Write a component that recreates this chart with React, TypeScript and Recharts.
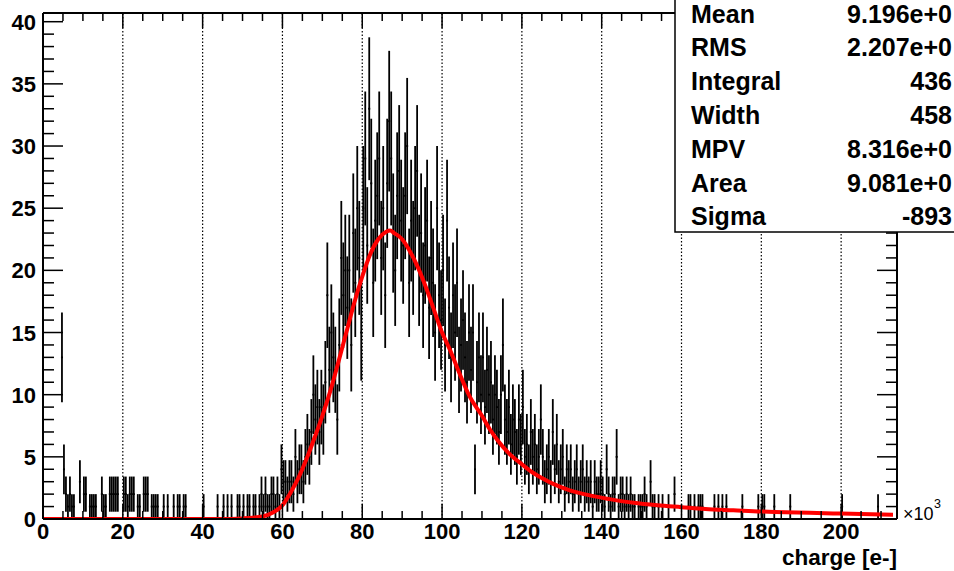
import { ComposedChart, Scatter, Line, XAxis, YAxis, ErrorBar, ReferenceLine } from 'recharts';

const BIN = 0.5; // bin width in 10^3 e-

// bin contents, one array per charge range (start of range in the name)
const counts0 = [0,0,0,0,0,0,0,0,0,13, 4,2,1,2,1,1,0,0,3,0, 2,2,0,1,1,1,1,0,0,2, 1,1,0,2,2,2,2,2,0,0, 2,2,1,2,2,2,0,1,1,0, 2,2,2,0,1,1,1,1,0,0];
const counts30 = [1,0,1,0,0,1,0,1,1,0, 1,1,0,0,0,0,0,0,0,0, 1,0,0,0,0,0,0,1,0,0, 1,0,1,0,1,0,0,1,1,0, 1,0,1,1,0,1,1,0,1,2, 1,2,1,1,2,2,1,2,1,4];
const counts60 = [3,3,2,3,3,2,5,3,4,4, 3,5,6,5,7,10,8,9,7,9, 8,11,18,12,15,13,12,8,14,21];
const counts75 = [18,20,17,20,14,23,19,25,21,15, 25,29,22,33,27,19,24,26,29,21, 25,18,27,32,29,23,20,26,28,24];
const counts90 = [22,26,30,19,24,21,25,28,20,23, 18,22,24,17,21,19,15,25,18,16, 20,14,24,17,13,18,15,19,12,14];
const counts105 = [16,13,11,15,12,15,4,11,13,10, 13,9,12,10,11,8,10,9,7,10, 14,8,7,9,6,8,7,5,8,6, 9,5,6,4,7,5,6,4,5,8];
const counts125 = [5,3,4,5,3,7,4,6,3,4, 5,2,4,3,4,2,3,4,2,3, 4,2,3,2,3,1,3,2,2,3, 2,1,4,2,1,2,2,5,1,2, 2,1,2,1,2,1,1,0,1,1];
const counts150 = [1,2,1,0,3,1,1,0,1,0, 1,0,0,1,0,0,2,0,0,0, 0,0,0,1,1,0,1,0,1,1, 1,0,0,0,0,0,1,0,1,0, 1,0,1,0,0,0,0,0,0,0, 1,0,0,0,0,0,0,0,1,0, 1,1,0,0,0,0,1,0,0,0, 0,0,0,0,1,0,0,0,0,0, 0,0,0,0,0,0,0,0,0,0, 0,0,0,0,0,0,0,0,0,0, 1,0,0,0,0,0,0,0,0,0, 0,0,0,0,0,0,0,0,1,0, 0,0,0,0,0,0,0,0];

const segments: [number, number[]][] = [
  [0, counts0], [30, counts30], [60, counts60], [75, counts75],
  [90, counts90], [105, counts105], [125, counts125], [150, counts150],
];

// landau fit
const fitX = [0, 45, 50, 52.5, 55, 57.5, 60, 62, 64, 66, 68, 70, 72, 74, 76, 78, 80, 82, 84, 86, 87, 88, 90, 92, 94, 96, 98, 100, 102, 104, 107, 110, 112, 114, 117, 120, 122, 125, 128, 132, 137, 142, 148, 154, 160, 166, 173, 180, 186, 192, 198, 205, 213];
const fitY = [0, 0, 0.05, 0.1, 0.2, 0.5, 1.1, 2.1, 3.3, 4.8, 6.5, 8.3, 10.3, 12.6, 15.0, 17.4, 19.5, 21.3, 22.5, 23.1, 23.2, 23.0, 22.5, 21.5, 20.2, 18.6, 16.8, 15.0, 13.6, 12.0, 9.8, 8.3, 7.2, 6.3, 5.2, 4.4, 3.9, 3.3, 2.8, 2.3, 1.9, 1.6, 1.3, 1.1, 0.95, 0.8, 0.7, 0.6, 0.55, 0.5, 0.45, 0.4, 0.35];

const xTicks = [0, 5, 10, 15, 20, 25, 30, 35, 40, 45, 50, 55, 60, 65, 70, 75, 80, 85, 90, 95, 100, 105, 110, 115, 120, 125, 130, 135, 140, 145, 150, 155, 160, 165, 170, 175, 180, 185, 190, 195, 200, 205, 210];
const xGrid = [20, 40, 60, 80, 100, 120, 140, 160, 180, 200];
const yTicks = [0, 1, 2, 3, 4, 5, 6, 7, 8, 9, 10, 11, 12, 13, 14, 15, 16, 17, 18, 19, 20, 21, 22, 23, 24, 25, 26, 27, 28, 29, 30, 31, 32, 33, 34, 35, 36, 37, 38, 39, 40];

const statNames = ['Mean', 'RMS', 'Integral', 'Width', 'MPV', 'Area', 'Sigma'];
const statValues = ['9.196e+0', '2.207e+0', '436', '458', '8.316e+0', '9.081e+0', '-893'];

const FONT = '"Liberation Sans", Arial, Helvetica, sans-serif';

const points = segments
  .flatMap(([start, counts]) =>
    counts.map((n, i) => ({ x: start + (i + 0.5) * BIN, n, ex: BIN / 2, ey: Math.sqrt(n) }))
  )
  .filter(p => p.n > 0);

const fitData = fitX.map((x, i) => ({ x, f: fitY[i] }));

function BottomTick({ x, y, payload }: any) {
  const major = payload.value % 20 === 0;
  return (
    <g>
      <line x1={x} x2={x} y1={y} y2={y - (major ? 15 : 8)} stroke="#000" strokeWidth={1.5} />
      {major && (
        <text x={x} y={y + 20} textAnchor="middle" fontFamily={FONT} fontWeight="bold" fontSize={22} fill="#000">
          {payload.value}
        </text>
      )}
    </g>
  );
}

function TopTick({ x, y, payload }: any) {
  const major = payload.value % 20 === 0;
  return <line x1={x} x2={x} y1={y} y2={y + (major ? 15 : 8)} stroke="#000" strokeWidth={1.5} />;
}

function LeftTick({ x, y, payload }: any) {
  const major = payload.value % 5 === 0;
  return (
    <g>
      <line x1={x} x2={x + (major ? 20 : 11)} y1={y} y2={y} stroke="#000" strokeWidth={1.5} />
      {major && (
        <text x={x - 7} y={y + 8} textAnchor="end" fontFamily={FONT} fontWeight="bold" fontSize={22} fill="#000">
          {payload.value}
        </text>
      )}
    </g>
  );
}

function RightTick({ x, y, payload }: any) {
  const major = payload.value % 5 === 0;
  return <line x1={x} x2={x - (major ? 20 : 11)} y1={y} y2={y} stroke="#000" strokeWidth={1.5} />;
}

const noShape = () => <g />;

export default function App() {
  return (
    <div style={{ position: 'absolute', left: 0, top: 0, width: 954, height: 571, overflow: 'hidden', background: '#fff' }}>
      <ComposedChart width={954} height={571} margin={{ top: 0, right: 0, bottom: 0, left: 0 }}>
        <XAxis
          xAxisId="b"
          dataKey="x"
          type="number"
          domain={[0, 214]}
          allowDataOverflow
          ticks={xTicks}
          interval={0}
          height={52}
          tickSize={0}
          tickMargin={0}
          tickLine={false}
          tick={<BottomTick />}
          axisLine={{ stroke: '#000', strokeWidth: 2 }}
        />
        <XAxis
          xAxisId="t"
          orientation="top"
          dataKey="x"
          type="number"
          domain={[0, 214]}
          allowDataOverflow
          ticks={xTicks}
          interval={0}
          height={13}
          tickSize={0}
          tickMargin={0}
          tickLine={false}
          tick={<TopTick />}
          axisLine={{ stroke: '#000', strokeWidth: 2 }}
        />
        <YAxis
          yAxisId="l"
          type="number"
          domain={[0, 40.7]}
          allowDataOverflow
          ticks={yTicks}
          interval={0}
          width={43}
          tickSize={0}
          tickMargin={0}
          tickLine={false}
          tick={<LeftTick />}
          axisLine={{ stroke: '#000', strokeWidth: 2 }}
        />
        <YAxis
          yAxisId="r"
          orientation="right"
          type="number"
          domain={[0, 40.7]}
          allowDataOverflow
          ticks={yTicks}
          interval={0}
          width={57}
          tickSize={0}
          tickMargin={0}
          tickLine={false}
          tick={<RightTick />}
          axisLine={{ stroke: '#000', strokeWidth: 2 }}
        />
        {xGrid.map(g => (
          <ReferenceLine key={g} x={g} xAxisId="b" yAxisId="l" stroke="#000" strokeWidth={1.2} strokeDasharray="1.5 2" />
        ))}
        <Scatter
          data={points}
          dataKey="n"
          xAxisId="b"
          yAxisId="l"
          shape={noShape}
          isAnimationActive={false}
        >
          <ErrorBar dataKey="ey" direction="y" width={0} stroke="#000" strokeWidth={1.8} isAnimationActive={false} />
          <ErrorBar dataKey="ex" direction="x" width={0} stroke="#000" strokeWidth={1.8} isAnimationActive={false} />
        </Scatter>
        <Line
          data={fitData}
          dataKey="f"
          xAxisId="b"
          yAxisId="l"
          type="monotone"
          stroke="#ff0000"
          strokeWidth={4}
          dot={false}
          isAnimationActive={false}
        />
      </ComposedChart>
      <svg width={954} height={571} style={{ position: 'absolute', left: 0, top: 0, pointerEvents: 'none' }}>
        <rect x={675} y={-5} width={300} height={237} fill="#fff" stroke="#000" strokeWidth={1.5} />
        {statNames.map((name, i) => (
          <g key={name}>
            <text x={691} y={22.5 + 33.8 * i} fontFamily={FONT} fontWeight="bold" fontSize={25} fill="#000">
              {name}
            </text>
            <text x={952} y={22.5 + 33.8 * i} textAnchor="end" fontFamily={FONT} fontWeight="bold" fontSize={25} fill="#000">
              {statValues[i]}
            </text>
          </g>
        ))}
        <text x={903} y={520} fontFamily={FONT} fontSize={18} fill="#000">
          ×10
        </text>
        <text x={934} y={508} fontFamily={FONT} fontSize={12.5} fill="#000">
          3
        </text>
        <text x={897} y={565} textAnchor="end" fontFamily={FONT} fontWeight="bold" fontSize={22.5} fill="#000">
          charge [e-]
        </text>
      </svg>
    </div>
  );
}
